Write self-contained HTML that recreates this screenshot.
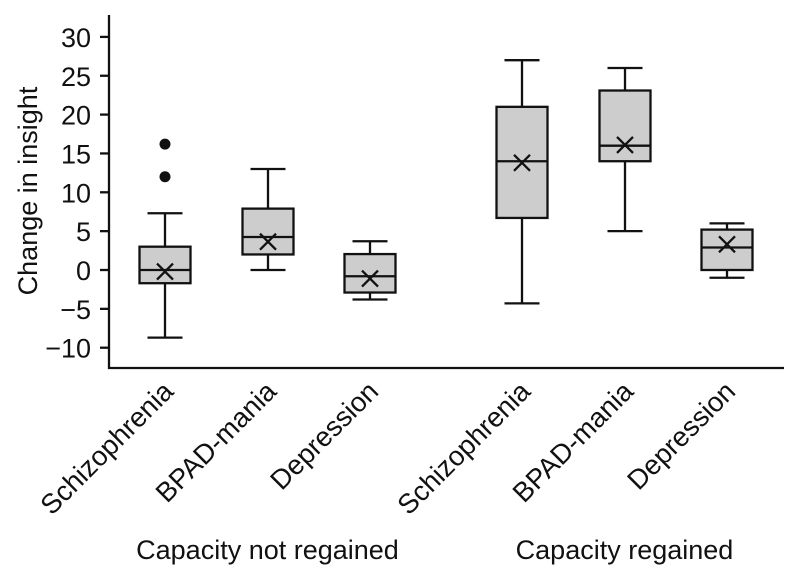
<!DOCTYPE html>
<html><head><meta charset="utf-8"><style>
html,body{margin:0;padding:0;background:#fff;}
svg{display:block;font-family:"Liberation Sans",Arial,sans-serif;}
</style></head><body>
<svg id="chart" width="800" height="581" viewBox="0 0 800 581" xmlns="http://www.w3.org/2000/svg"></svg>
<script>
const categories = ["Schizophrenia","BPAD-mania","Depression","Schizophrenia","BPAD-mania","Depression"];
const groups = ["Capacity not regained","Capacity regained"];
const whiskerLow = [-8.7, 0, -3.8, -4.3, 5.0, -1.0];
const q1 = [-1.7, 2.0, -2.9, 6.7, 14.0, 0];
const medians = [0, 4.25, -0.8, 14.0, 16.0, 2.9];
const means = [-0.2, 3.65, -1.1, 13.8, 16.1, 3.3];
const q3 = [3.0, 7.9, 2.05, 21.0, 23.1, 5.2];
const whiskerHigh = [7.3, 13, 3.7, 27.0, 26.0, 6.0];
const outliers = [[16.2, 12.0], [], [], [], [], []];
const yTicks = [30, 25, 20, 15, 10, 5, 0, -5, -10];

const svg = document.getElementById('chart');
const NS = "http://www.w3.org/2000/svg";
function y(v){ return 270 - v * 7.77; }
const xCenters = [165, 268, 370, 522, 625, 727];
function x(i){ return xCenters[i]; }
function mk(tag, attrs, parent){
  const e = document.createElementNS(NS, tag);
  for (const k in attrs) e.setAttribute(k, attrs[k]);
  (parent || svg).appendChild(e);
  return e;
}
const yAxis = mk('line', {x1:109, y1:15, x2:109, y2:369, stroke:'#111', 'stroke-width':2.3});


const xAxis = mk('line', {x1:108, y1:368, x2:784, y2:368, stroke:'#111', 'stroke-width':2.3});


yTicks.forEach(t => {
  const tk = mk('line', {x1:100, x2:109, y1:y(t), y2:y(t), stroke:'#111', 'stroke-width':2.3});
  
  
  const lb = mk('text', {x:91, y:y(t)+10, 'text-anchor':'end', 'font-size':27, fill:'#111'});
  lb.textContent = t < 0 ? '\u2212' + Math.abs(t) : String(t);
  
  
});
const yt = mk('text', {x:0, y:0, transform:'translate(37,191) rotate(-90)', 'text-anchor':'middle', 'font-size':27, fill:'#111'});
yt.textContent = 'Change in insight';



categories.forEach((c, i) => {
  const cx = x(i), hw = 25.5, cw = 17.5;
  const g = mk('g', {});
  
  
  const st = {stroke:'#111', 'stroke-width':2.3, fill:'none'};
  mk('line', Object.assign({x1:cx, x2:cx, y1:y(q3[i]), y2:y(whiskerHigh[i])}, st), g);
  mk('line', Object.assign({x1:cx, x2:cx, y1:y(q1[i]), y2:y(whiskerLow[i])}, st), g);
  mk('line', Object.assign({x1:cx-cw, x2:cx+cw, y1:y(whiskerHigh[i]), y2:y(whiskerHigh[i])}, st), g);
  mk('line', Object.assign({x1:cx-cw, x2:cx+cw, y1:y(whiskerLow[i]), y2:y(whiskerLow[i])}, st), g);
  mk('rect', {x:cx-hw, y:y(q3[i]), width:hw*2, height:y(q1[i])-y(q3[i]), fill:'#cdcdcd', stroke:'#111', 'stroke-width':2.3}, g);
  mk('line', Object.assign({x1:cx-hw, x2:cx+hw, y1:y(medians[i]), y2:y(medians[i])}, st), g);
  const my = y(means[i]), s = 8;
  mk('path', Object.assign({d:`M${cx-s},${my-s}L${cx+s},${my+s}M${cx+s},${my-s}L${cx-s},${my+s}`}, st), g);
  outliers[i].forEach(o => {
    const d = mk('circle', {cx:cx, cy:y(o), r:5.5, fill:'#111'}, g);
    
    
  });
  const lb = mk('text', {x:0, y:0, transform:`translate(${cx+10},393) rotate(-45)`, 'text-anchor':'end', 'font-size':27.5, fill:'#111'});
  lb.textContent = c;
  
  
});
groups.forEach((gname, gi) => {
  const cx = (x(gi*3) + x(gi*3+2)) / 2;
  const t = mk('text', {x:cx, y:559, 'text-anchor':'middle', 'font-size':27, fill:'#111'});
  t.textContent = gname;
  
  
});
</script>
</body></html>
